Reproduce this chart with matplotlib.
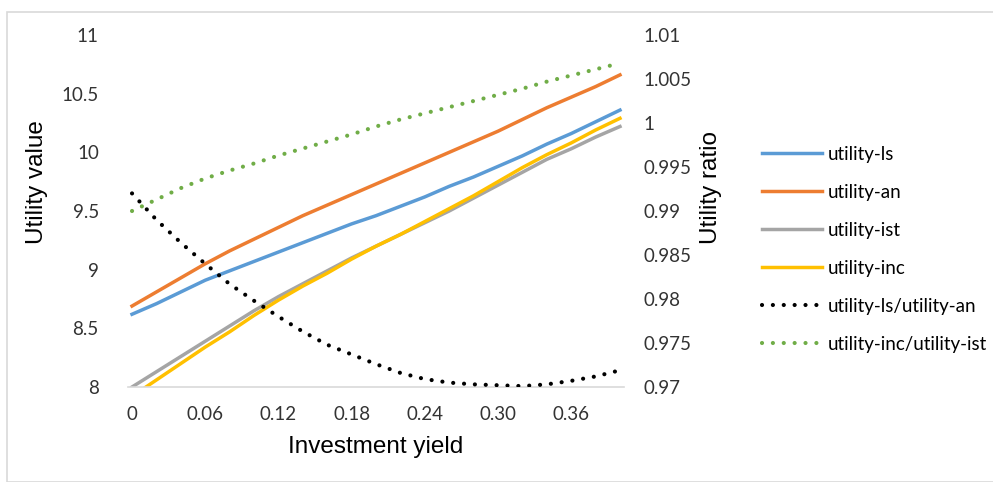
import matplotlib.pyplot as plt
from matplotlib.patches import Rectangle

# investment yield (x) and series values
yields = [0.00, 0.02, 0.04, 0.06, 0.08, 0.10, 0.12, 0.14, 0.16, 0.18, 0.20,
          0.22, 0.24, 0.26, 0.28, 0.30, 0.32, 0.34, 0.36, 0.38, 0.40]

utility_ls = [8.62, 8.71, 8.81, 8.91, 8.99, 9.07, 9.15, 9.23, 9.31, 9.39, 9.46,
              9.54, 9.62, 9.71, 9.79, 9.88, 9.97, 10.07, 10.16, 10.26, 10.36]
utility_an = [8.69, 8.81, 8.93, 9.05, 9.16, 9.26, 9.36, 9.46, 9.55, 9.64, 9.73,
              9.82, 9.91, 10.00, 10.09, 10.18, 10.28, 10.38, 10.47, 10.56, 10.66]
utility_ist = [8.00, 8.13, 8.26, 8.39, 8.52, 8.65, 8.77, 8.88, 8.99, 9.10, 9.20,
               9.30, 9.40, 9.50, 9.61, 9.72, 9.83, 9.94, 10.03, 10.13, 10.22]
utility_inc = [7.92, 8.06, 8.20, 8.34, 8.47, 8.61, 8.74, 8.86, 8.97, 9.09, 9.20,
               9.30, 9.41, 9.52, 9.63, 9.75, 9.87, 9.98, 10.08, 10.19, 10.29]

ratio_ls_an = [0.9920, 0.9890, 0.9864, 0.9840, 0.9817, 0.9798, 0.9780, 0.9763,
               0.9748, 0.9737, 0.9726, 0.9716, 0.9709, 0.9705, 0.9703, 0.9702,
               0.9701, 0.9703, 0.9707, 0.9712, 0.9719]
ratio_inc_ist = [0.9900, 0.9913, 0.9926, 0.9937, 0.9946, 0.9954, 0.9963, 0.9971,
                 0.9979, 0.9987, 0.9996, 1.0004, 1.0011, 1.0018, 1.0025, 1.0032,
                 1.0039, 1.0047, 1.0054, 1.0061, 1.0068]

xtick_vals = [0, 0.06, 0.12, 0.18, 0.24, 0.30, 0.36]
xtick_labels = ["0", "0.06", "0.12", "0.18", "0.24", "0.30", "0.36"]
left_ticks = [8, 8.5, 9, 9.5, 10, 10.5, 11]
right_ticks = [0.97, 0.975, 0.98, 0.985, 0.99, 0.995, 1.0, 1.005, 1.01]

plt.rcParams["font.family"] = ["Lato", "DejaVu Sans"]

W, H = 993, 482
fig = plt.figure(figsize=(W / 100, H / 100), dpi=100)
fig.patches.append(Rectangle((7 / W, 0), 1.2, 1 - 12 / H, transform=fig.transFigure,
                             fill=False, edgecolor="#d9d9d9", linewidth=1.2))

ax = fig.add_axes([128 / W, 1 - 387 / H, (624 - 128) / W, (387 - 35) / H])
ax2 = ax.twinx()

dots = (0, (0.01, 2.6))
ax.plot(yields, utility_ls, color="#5B9BD5", lw=2.5, label="utility-ls")
ax.plot(yields, utility_an, color="#ED7D31", lw=2.5, label="utility-an")
ax.plot(yields, utility_ist, color="#A5A5A5", lw=2.5, label="utility-ist")
ax.plot(yields, utility_inc, color="#FFC000", lw=2.5, label="utility-inc")
ax2.plot(yields, ratio_ls_an, color="black", lw=3, ls=dots,
         dash_capstyle="round", label="utility-ls/utility-an")
ax2.plot(yields, ratio_inc_ist, color="#70AD47", lw=3, ls=dots,
         dash_capstyle="round", label="utility-inc/utility-ist")

ax.set_xlim(-0.0033, 0.4033)
ax.set_ylim(8, 11)
ax2.set_ylim(0.97, 1.01)

ax.set_xticks(xtick_vals)
ax.set_xticklabels(xtick_labels)
ax.set_yticks(left_ticks)
ax.set_yticklabels([f"{v:g}" for v in left_ticks])
ax2.set_yticks(right_ticks)
ax2.set_yticklabels([f"{v:g}" for v in right_ticks])

for a in (ax, ax2):
    for s in a.spines.values():
        s.set_visible(False)
    a.tick_params(length=0, labelsize=13.5, colors="#333333")
ax.spines["bottom"].set_visible(True)
ax.spines["bottom"].set_color("#d9d9d9")
ax.spines["bottom"].set_linewidth(1.2)
ax.tick_params(axis="x", pad=14)
ax.tick_params(axis="y", pad=21)
ax2.tick_params(axis="y", pad=14)

title_font = dict(fontsize=17.5, family=["Liberation Sans", "DejaVu Sans"])
ax.set_xlabel("Investment yield", labelpad=9, **title_font)
ax.set_ylabel("Utility value", labelpad=10, **title_font)
ax2.set_ylabel("Utility ratio", labelpad=6, **title_font)
# axis titles sit a bit above the middle in the original
ax.yaxis.label.set_y(0.582)
ax2.yaxis.label.set_y(0.568)

h1, l1 = ax.get_legend_handles_labels()
h2, l2 = ax2.get_legend_handles_labels()
fig.legend(h1 + h2, l1 + l2, loc="upper left",
           bbox_to_anchor=(762 / W, 1 - 146 / H), frameon=False,
           fontsize=13.5, handlelength=3.2, handletextpad=0.3,
           labelspacing=1.12, borderpad=0, borderaxespad=0)

fig.savefig("out.png", dpi=100)
